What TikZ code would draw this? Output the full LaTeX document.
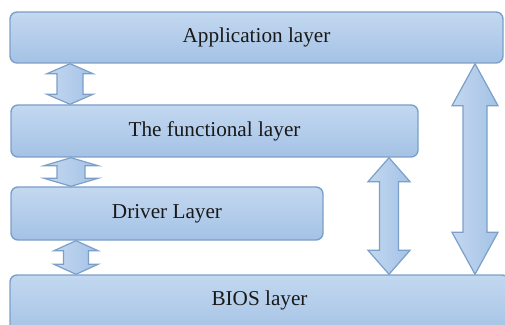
\documentclass[tikz,border=0pt]{standalone}
\usepackage{fontspec}
\newfontfamily\layerfont{Liberation Serif}
\usetikzlibrary{calc}
\definecolor{boxtop}{HTML}{C3D8F0}
\definecolor{boxbot}{HTML}{A4C2E5}
\definecolor{boxline}{HTML}{7B9FC9}
\tikzset{
  layer/.style={draw=boxline, line width=1.4pt, rounded corners=7pt,
    top color=boxtop, bottom color=boxbot, inner sep=0pt,
    font=\layerfont\fontsize{21.2}{25}\selectfont, text=black!90},
  fatarrow/.style={draw=boxline, line width=1.2pt, left color=boxtop, right color=boxbot, line join=miter}
}
\newcommand\dblarrow[6]{%
  \path[fatarrow] let \p1=(#2), \p2=(#3) in
   (#1,\y1) -- (#1+#4,\y1-#6) -- (#1+#5,\y1-#6) -- (#1+#5,\y2+#6) -- (#1+#4,\y2+#6)
   -- (#1,\y2) -- (#1-#4,\y2+#6) -- (#1-#5,\y2+#6) -- (#1-#5,\y1-#6) -- (#1-#4,\y1-#6) -- cycle;}
\begin{document}
\begin{tikzpicture}[x=1pt,y=1pt]
\useasboundingbox (0,0) rectangle (505,324);
\node[layer, minimum width=493pt, minimum height=51pt] (app) at (256.5,286.5) {Application layer};
\node[layer, minimum width=407pt, minimum height=52pt] (func) at (214.5,193) {The functional layer};
\node[layer, minimum width=312pt, minimum height=53pt] (drv) at (167,110.5) {Driver Layer};
\node[layer, minimum width=499pt, minimum height=60pt, text height=14pt, text depth=14pt] (bios) at (259.5,19) {BIOS layer};
\dblarrow{70pt}{app.south}{func.north}{23pt}{13pt}{10pt}
\dblarrow{71pt}{func.south}{drv.north}{27pt}{14pt}{8pt}
\dblarrow{76pt}{drv.south}{bios.north}{22pt}{12.5pt}{10pt}
\dblarrow{389pt}{func.south}{bios.north}{21pt}{9.5pt}{24pt}
\dblarrow{475pt}{app.south}{bios.north}{23pt}{12pt}{42pt}
\end{tikzpicture}
\end{document}
